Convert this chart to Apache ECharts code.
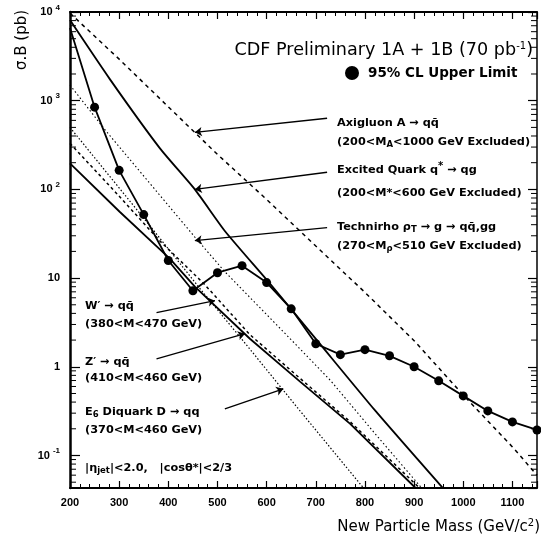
<!DOCTYPE html>
<html><head><meta charset="utf-8">
<script src="https://cdn.jsdelivr.net/npm/echarts@6/dist/echarts.min.js"></script>
<style>html,body{margin:0;padding:0;background:#fff}#c{width:541px;height:539px}</style>
</head><body><div id="c"></div>
<script>
// ---- data (mass in GeV, cross section x BR in pb) ----
const limitMass = [200,250,300,350,400,450,500,550,600,650,700,750,800,850,900,950,1000,1050,1100,1150];
const limitVals = [6600,845,164,52,15.8,7.2,11.5,13.8,8.9,4.5,1.82,1.37,1.56,1.33,1.0,0.695,0.47,0.318,0.239,0.194];

const axiMass = [200,300,400,500,600,700,800,900,1000,1100,1150];
const axiVals = [9700,2940,853,248,77,23,6.9,1.97,0.48,0.125,0.06];

const qstarMass = [200,281,383,454,515,605,703,821,960];
const qstarVals = [8100,1750,290,100,34,8.9,1.97,0.32,0.042];

const rhoMass = [200,272,454,515,648,730,821,917];
const rhoVals = [1500,464,29,11.8,2.07,0.70,0.175,0.042];

const wMass = [200,291,382,472,566,668,770,913];
const wVals = [330,95,26.5,8.7,2.3,0.74,0.24,0.042];

const zMass = [200,301,403,454,566,668,770,903];
const zVals = [197,56,16.6,8.0,2.07,0.68,0.227,0.043];

const e6Mass = [200,372,462,552,668,797];
const e6Vals = [500,33.5,7.9,1.97,0.318,0.043];

const xTickLabels = ['200','300','400','500','600','700','800','900','1000','1100'];

// arrows: [tailMass, tailVal, tipMass, tipVal]
const arrows = [
  [723,634,454,440],
  [723,156,454,100],
  [723,37,454,26.5],
  [376,4.07,495,5.57],
  [376,1.23,556,2.36],
  [515,0.335,634,0.564]
];

const X_MIN = 200, X_MAX = 1150, Y_MIN = 0.043, Y_MAX = 10000;

function pairs(m, v){ return m.map((x,i)=>[x, v[i]]); }

const minorY = [];
for (let k=-2;k<=3;k++) for (let j=2;j<=9;j++){ const v=j*Math.pow(10,k); if (v>Y_MIN && v<Y_MAX) minorY.push([X_MIN, v]); }

const FF = '"Liberation Sans", Arial, sans-serif';
const FT = '"DejaVu Sans", "Liberation Sans", sans-serif';

function ann(x, y, text, opts){
  opts = opts || {};
  const size = opts.size || 11.3, w = opts.weight || 'bold', ss = opts.subSize || 8.5;
  return {type:'text', x:x, y:y, z:100, style:{
    text:text, fill:'#000', fontFamily:FT, fontSize:size,
    fontWeight:w, align: opts.align || 'left', verticalAlign:'middle',
    rich:{ s:{fontSize:ss, fontWeight:w, fontFamily:FT, padding:[6,0,0,0]},
           p:{fontSize:ss, fontWeight:w, fontFamily:FT, padding:[0,0,7,0]} }
  }};
}

const dashLine = (w, t) => ({color:'#000', width:w, type:t});

const chart = echarts.init(document.getElementById('c'), null, {renderer:'canvas'});
chart.setOption({
  animation:false,
  backgroundColor:'#fff',
  grid:{left:70, right:4, top:12, bottom:51},
  legend:{show:true, left:340, top:61, data:[{name:'95% CL Upper Limit', icon:'circle'}],
    itemWidth:14, itemHeight:14, itemGap:5,
    textStyle:{fontFamily:FT, fontSize:13.5, fontWeight:'bold', color:'#000', padding:[0,0,0,4]}},
  xAxis:[{
    type:'value', position:'bottom', min:X_MIN, max:X_MAX, interval:100,
    axisLine:{show:true, lineStyle:{color:'#000', width:2}},
    axisTick:{show:true, inside:true, length:7, lineStyle:{color:'#000', width:1.2}},
    minorTick:{show:true, splitNumber:5, length:4, lineStyle:{color:'#000', width:1}},
    splitLine:{show:false}, minorSplitLine:{show:false},
    axisLabel:{showMaxLabel:false, margin:9, color:'#000', fontFamily:FF, fontSize:11, fontWeight:'bold',
      formatter:(v)=>{ const i=Math.round((v-200)/100); return (i>=0 && i<xTickLabels.length && Math.abs(v-(200+i*100))<1e-6)? xTickLabels[i] : ''; }}
  },{
    type:'value', position:'top', min:X_MIN, max:X_MAX, interval:100,
    axisLine:{show:true, lineStyle:{color:'#000', width:2}},
    axisTick:{show:true, inside:true, length:7, lineStyle:{color:'#000', width:1.2}},
    minorTick:{show:true, splitNumber:5, length:4, lineStyle:{color:'#000', width:1}},
    splitLine:{show:false}, axisLabel:{show:false}
  }],
  yAxis:[{
    type:'log', logBase:10, min:Y_MIN, max:Y_MAX, position:'left',
    axisLine:{show:true, lineStyle:{color:'#000', width:2.5}},
    axisTick:{show:true, inside:true, length:10, lineStyle:{color:'#000', width:1.2}},
    splitLine:{show:false},
    axisLabel:{showMinLabel:false, margin:10, color:'#000',
      formatter:(v)=>{ const e=Math.round(Math.log10(v)); if (Math.abs(Math.log10(v)-e)>1e-6) return ''; if (e===0) return '{b|1}'; if (e===1) return '{b|10}'; return '{b|10}{s|'+e+'}'; },
      rich:{ b:{fontFamily:FF, fontSize:11, fontWeight:'bold', color:'#000'},
             s:{fontFamily:FF, fontSize:8, fontWeight:'bold', color:'#000', padding:[0,0,9,3]} }}
  },{
    type:'log', logBase:10, min:Y_MIN, max:Y_MAX, position:'right',
    axisLine:{show:true, lineStyle:{color:'#000', width:1.5}},
    axisTick:{show:true, inside:true, length:9, lineStyle:{color:'#000', width:1.2}},
    splitLine:{show:false}, axisLabel:{show:false}
  }],
  series:[
    {name:'95% CL Upper Limit', type:'line', data: pairs(limitMass, limitVals).map((p,i)=> i===0 ? {value:p, symbol:'none'} : p),
     symbol:'circle', symbolSize:9, itemStyle:{color:'#000'}, lineStyle:{color:'#000', width:1.8}, z:5,
     markLine:{silent:true, symbol:['none','arrow'], symbolSize:7, label:{show:false},
       lineStyle:{color:'#000', width:1.3, type:'solid'},
       data: arrows.map(a=>[{coord:[a[0],a[1]]},{coord:[a[2],a[3]]}])}},
    {name:'Axigluon', type:'line', data:pairs(axiMass, axiVals), symbol:'none', lineStyle:dashLine(1.5,[4,4])},
    {name:'Excited quark', type:'line', data:pairs(qstarMass, qstarVals), symbol:'none', smooth:0.2, lineStyle:dashLine(1.8,'solid')},
    {name:'Technirho', type:'line', data:pairs(rhoMass, rhoVals), symbol:'none', lineStyle:dashLine(1.1,[1.5,2.5])},
    {name:'W prime', type:'line', data:pairs(wMass, wVals), symbol:'none', lineStyle:dashLine(1.5,[3,3])},
    {name:'Z prime', type:'line', data:pairs(zMass, zVals), symbol:'none', lineStyle:dashLine(1.8,'solid')},
    {name:'E6 diquark', type:'line', data:pairs(e6Mass, e6Vals), symbol:'none', lineStyle:dashLine(1.2,[1.5,2])},
    {name:'minorY', type:'custom', data:minorY, encode:{x:0,y:1}, silent:true,
     renderItem:(params, api)=>{
       const v = api.value(1);
       const pl = api.coord([X_MIN, v]); const pr = api.coord([X_MAX, v]);
       return {type:'group', children:[
         {type:'line', shape:{x1:pl[0], y1:pl[1], x2:pl[0]+6, y2:pl[1]}, style:{stroke:'#000', lineWidth:1}},
         {type:'line', shape:{x1:pr[0], y1:pr[1], x2:pr[0]-6, y2:pr[1]}, style:{stroke:'#000', lineWidth:1}}
       ]};
     }}
  ],
  graphic:[
    ann(533, 50, 'CDF Preliminary 1A + 1B (70 pb{p|-1})', {size:17.6, weight:'normal', align:'right', subSize:10}),
    ann(337, 123, 'Axigluon A → qq̄'),
    ann(337, 142, '(200<M{s|A}<1000 GeV Excluded)'),
    ann(337, 170, 'Excited Quark q{p|*} → qg', {subSize:10}),
    ann(337, 193, '(200<M*<600 GeV Excluded)'),
    ann(337, 227, 'Technirho ρ{s|T} → g → qq̄,gg'),
    ann(337, 246, '(270<M{s|ρ}<510 GeV Excluded)'),
    ann(85, 306, 'W′ → qq̄'),
    ann(85, 324, '(380<M<470 GeV)'),
    ann(85, 362, 'Z′ → qq̄'),
    ann(85, 378, '(410<M<460 GeV)'),
    ann(85, 412, 'E{s|6} Diquark D → qq'),
    ann(85, 430, '(370<M<460 GeV)'),
    ann(85, 468, '|η{s|jet}|<2.0,   |cosθ*|<2/3'),
    ann(540, 527, 'New Particle Mass (GeV/c{p|2})', {size:15, weight:'normal', align:'right', subSize:10}),
    {type:'text', x:22, y:40, rotation:Math.PI/2, style:{text:'σ.B (pb)', fill:'#000', fontFamily:FT, fontSize:15, align:'center', verticalAlign:'middle'}}
  ]
});
</script></body></html>
